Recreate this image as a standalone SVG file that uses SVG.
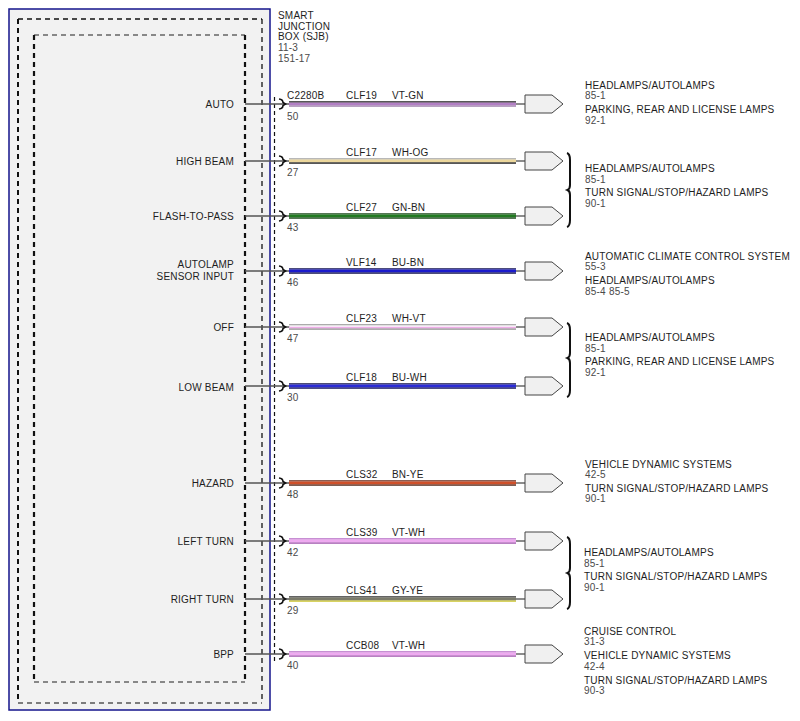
<svg xmlns="http://www.w3.org/2000/svg" width="800" height="721" viewBox="0 0 800 721">
<style>
text{font-family:"Liberation Sans",Arial,sans-serif;font-size:10px;fill:#1e1e1e;letter-spacing:0.2px}
.n{fill:#4a4a4a}
.lbl{text-anchor:end}
.pin{stroke:#555;stroke-width:1.5;fill:none}
.term{stroke:#111;stroke-width:1.6;fill:none}
.tail{stroke:#666;stroke-width:1.5}
.conn{fill:#f0f0f0;stroke:#444;stroke-width:1}
.brace{fill:none;stroke:#111;stroke-width:2}
</style>
<defs>
<path id="pent" class="conn" d="M525,-9 L552,-9 L563,0 L552,9 L525,9 Z"/>
<path id="term" class="term" d="M279,-5 Q283,-4.5 283,-1.5 L285.5,0 L283,1.5 Q283,4.5 279,5"/>
</defs>
<rect width="800" height="721" fill="#fff"/>

<g id="sjb">
<rect x="9" y="9" width="261" height="701" fill="#f2f2f2" stroke="#14148c" stroke-width="1.5"/>
<g fill="none" stroke-dasharray="5,4">
<line x1="18" y1="19" x2="262" y2="19" stroke="#111" stroke-width="1.5"/>
<line x1="18" y1="19" x2="18" y2="703" stroke="#111" stroke-width="2"/>
<line x1="262" y1="19" x2="262" y2="703" stroke="#111" stroke-width="1.3"/>
<line x1="18" y1="703" x2="262" y2="703" stroke="#555" stroke-width="1.3"/>
<line x1="34" y1="35" x2="245" y2="35" stroke="#666" stroke-width="1.3"/>
<line x1="34" y1="35" x2="34" y2="682" stroke="#111" stroke-width="2.2"/>
<line x1="245" y1="35" x2="245" y2="682" stroke="#111" stroke-width="2.2"/>
<line x1="34" y1="682" x2="245" y2="682" stroke="#666" stroke-width="1.3"/>
</g>
<line x1="274.5" y1="97" x2="274.5" y2="662" stroke="#111" stroke-width="1.2" stroke-dasharray="4,3"/>
<text x="278" y="19">SMART</text>
<text x="278" y="29.5">JUNCTION</text>
<text x="278" y="40">BOX (SJB)</text>
<text x="278" y="51" class="n">11-3</text>
<text x="278" y="62" class="n">151-17</text>
<g class="lbl">
<text x="234" y="108">AUTO</text>
<text x="234" y="165">HIGH BEAM</text>
<text x="234" y="220">FLASH-TO-PASS</text>
<text x="234" y="268">AUTOLAMP</text>
<text x="234" y="279.5">SENSOR INPUT</text>
<text x="234" y="331">OFF</text>
<text x="234" y="391">LOW BEAM</text>
<text x="234" y="487">HAZARD</text>
<text x="234" y="545">LEFT TURN</text>
<text x="234" y="603">RIGHT TURN</text>
<text x="234" y="658">BPP</text>
</g>
</g>

<g id="connectors">
<g id="w-auto" transform="translate(0,104)">
<line class="pin" x1="245" y1="0" x2="290" y2="0"/><use href="#term"/>
<rect x="289" y="-2.7" width="227" height="1.3" fill="#111"/><rect x="289" y="-1.4" width="227" height="2.9" fill="#b27fc4"/><rect x="289" y="1.5" width="227" height="1.2" fill="#9a7aa8"/>
<line class="tail" x1="516" y1="0" x2="525" y2="0"/>
<text x="287" y="-5">C2280B</text><text x="346" y="-5">CLF19</text><text x="392" y="-5">VT-GN</text><text x="287" y="16" class="n">50</text>
</g>
<g id="w-highbeam" transform="translate(0,161)">
<line class="pin" x1="245" y1="0" x2="290" y2="0"/><use href="#term"/>
<rect x="289" y="-2.7" width="227" height="1.2" fill="#9a9a9a"/><rect x="289" y="-1.5" width="227" height="2.9" fill="#ecd79c"/><rect x="289" y="1.4" width="227" height="1.3" fill="#111"/>
<line class="tail" x1="516" y1="0" x2="525" y2="0"/>
<text x="346" y="-5">CLF17</text><text x="392" y="-5">WH-OG</text><text x="287" y="15" class="n">27</text>
</g>
<g id="w-flash" transform="translate(0,216)">
<line class="pin" x1="245" y1="0" x2="290" y2="0"/><use href="#term"/>
<rect x="289" y="-2.7" width="227" height="1.2" fill="#0d3d0d"/><rect x="289" y="-1.5" width="227" height="3" fill="#217a21"/><rect x="289" y="1.5" width="227" height="1.2" fill="#0d3d0d"/>
<line class="tail" x1="516" y1="0" x2="525" y2="0" stroke="#111"/>
<text x="346" y="-5">CLF27</text><text x="392" y="-5">GN-BN</text><text x="287" y="15" class="n">43</text>
</g>
<g id="w-autolamp" transform="translate(0,271)">
<line class="pin" x1="245" y1="0" x2="290" y2="0"/><use href="#term"/>
<rect x="289" y="-2.7" width="227" height="1.2" fill="#000048"/><rect x="289" y="-1.5" width="227" height="3" fill="#1a1acc"/><rect x="289" y="1.5" width="227" height="1.2" fill="#000040"/>
<line class="tail" x1="516" y1="0" x2="525" y2="0"/>
<text x="346" y="-5">VLF14</text><text x="392" y="-5">BU-BN</text><text x="287" y="15" class="n">46</text>
</g>
<g id="w-off" transform="translate(0,327)">
<line class="pin" x1="245" y1="0" x2="290" y2="0" stroke="#111"/><use href="#term"/>
<rect x="289" y="-2.7" width="227" height="1.2" fill="#888"/><rect x="289" y="-1.5" width="227" height="1.2" fill="#fff"/><rect x="289" y="-0.3" width="227" height="1.8" fill="#eeaee8"/><rect x="289" y="1.5" width="227" height="1.2" fill="#8a8a8a"/>
<line class="tail" x1="516" y1="0" x2="525" y2="0" stroke="#111"/>
<text x="346" y="-5">CLF23</text><text x="392" y="-5">WH-VT</text><text x="287" y="15" class="n">47</text>
</g>
<g id="w-lowbeam" transform="translate(0,386)">
<line class="pin" x1="245" y1="0" x2="290" y2="0"/><use href="#term"/>
<rect x="289" y="-2.7" width="227" height="1.2" fill="#00003a"/><rect x="289" y="-1.5" width="227" height="3" fill="#2b2bd6"/><rect x="289" y="1.5" width="227" height="1.2" fill="#000050"/>
<line class="tail" x1="516" y1="0" x2="525" y2="0"/>
<text x="346" y="-5">CLF18</text><text x="392" y="-5">BU-WH</text><text x="287" y="15" class="n">30</text>
</g>
<g id="w-hazard" transform="translate(0,483)">
<line class="pin" x1="245" y1="0" x2="290" y2="0"/><use href="#term"/>
<rect x="289" y="-2.7" width="227" height="1.2" fill="#5a1a0a"/><rect x="289" y="-1.5" width="227" height="3" fill="#d0502a"/><rect x="289" y="1.5" width="227" height="1.2" fill="#4a1a0a"/>
<line class="tail" x1="516" y1="0" x2="525" y2="0"/>
<text x="346" y="-5">CLS32</text><text x="392" y="-5">BN-YE</text><text x="287" y="15" class="n">48</text>
</g>
<g id="w-leftturn" transform="translate(0,541)">
<line class="pin" x1="245" y1="0" x2="290" y2="0"/><use href="#term"/>
<rect x="289" y="-2.7" width="227" height="1.2" fill="#b060c0"/><rect x="289" y="-1.5" width="227" height="3" fill="#eeaaf0"/><rect x="289" y="1.5" width="227" height="1.2" fill="#9a4aa8"/>
<line class="tail" x1="516" y1="0" x2="525" y2="0"/>
<text x="346" y="-5">CLS39</text><text x="392" y="-5">VT-WH</text><text x="287" y="15" class="n">42</text>
</g>
<g id="w-rightturn" transform="translate(0,599)">
<line class="pin" x1="245" y1="0" x2="290" y2="0" stroke="#111"/><use href="#term"/>
<rect x="289" y="-2.7" width="227" height="1.2" fill="#222"/><rect x="289" y="-1.5" width="227" height="3" fill="#7a7a6a"/><rect x="289" y="1.5" width="227" height="1.2" fill="#c8c020"/>
<line class="tail" x1="516" y1="0" x2="525" y2="0"/>
<text x="346" y="-5">CLS41</text><text x="392" y="-5">GY-YE</text><text x="287" y="15" class="n">29</text>
</g>
<g id="w-bpp" transform="translate(0,654)">
<line class="pin" x1="245" y1="0" x2="290" y2="0"/><use href="#term"/>
<rect x="289" y="-2.7" width="227" height="1.2" fill="#b060c0"/><rect x="289" y="-1.5" width="227" height="3" fill="#eeaaf0"/><rect x="289" y="1.5" width="227" height="1.2" fill="#9a4aa8"/>
<line class="tail" x1="516" y1="0" x2="525" y2="0"/>
<text x="346" y="-5">CCB08</text><text x="392" y="-5">VT-WH</text><text x="287" y="15" class="n">40</text>
</g>
<g id="braces">
<path class="brace" d="M567,153 Q570,154 570,160 L570,185 Q570,189 567.5,190 Q570,191 570,195 L570,220 Q570,226 567,227"/>
<path class="brace" d="M567,323 Q570,324 570,330 L570,353 Q570,357 567.5,358 Q570,359 570,363 L570,390 Q570,396 567,397"/>
<path class="brace" d="M567,537 Q570,538 570,544 L570,568 Q570,572 567.5,573 Q570,574 570,578 L570,602 Q570,608 567,609"/>
</g>
</g>

<g id="dest-auto"><use href="#pent" y="104"/>
<text x="585" y="88.5">HEADLAMPS/AUTOLAMPS</text><text x="585" y="99" class="n">85-1</text>
<text x="585" y="112.5">PARKING, REAR AND LICENSE LAMPS</text><text x="585" y="123.5" class="n">92-1</text></g>
<g id="dest-highbeam"><use href="#pent" y="161"/></g>
<g id="dest-flash"><use href="#pent" y="216"/>
<text x="585" y="172">HEADLAMPS/AUTOLAMPS</text><text x="585" y="182.5" class="n">85-1</text>
<text x="585" y="196">TURN SIGNAL/STOP/HAZARD LAMPS</text><text x="585" y="207" class="n">90-1</text></g>
<g id="dest-autolamp"><use href="#pent" y="271"/>
<text x="585" y="259.5">AUTOMATIC CLIMATE CONTROL SYSTEM</text><text x="585" y="270" class="n">55-3</text>
<text x="585" y="283.5">HEADLAMPS/AUTOLAMPS</text><text x="585" y="295" class="n">85-4</text><text x="609" y="295" class="n">85-5</text></g>
<g id="dest-off"><use href="#pent" y="327"/></g>
<g id="dest-lowbeam"><use href="#pent" y="386"/>
<text x="585" y="341">HEADLAMPS/AUTOLAMPS</text><text x="585" y="351.5" class="n">85-1</text>
<text x="585" y="364.5">PARKING, REAR AND LICENSE LAMPS</text><text x="585" y="375.5" class="n">92-1</text></g>
<g id="dest-hazard"><use href="#pent" y="483"/>
<text x="585" y="467.5">VEHICLE DYNAMIC SYSTEMS</text><text x="585" y="478" class="n">42-5</text>
<text x="585" y="491.5">TURN SIGNAL/STOP/HAZARD LAMPS</text><text x="585" y="502" class="n">90-1</text></g>
<g id="dest-leftturn"><use href="#pent" y="541"/></g>
<g id="dest-rightturn"><use href="#pent" y="599"/>
<text x="584" y="555.5">HEADLAMPS/AUTOLAMPS</text><text x="584" y="566.5" class="n">85-1</text>
<text x="584" y="580">TURN SIGNAL/STOP/HAZARD LAMPS</text><text x="584" y="591" class="n">90-1</text></g>
<g id="dest-bpp"><use href="#pent" y="654"/>
<text x="584" y="634.5">CRUISE CONTROL</text><text x="584" y="645" class="n">31-3</text>
<text x="584" y="659">VEHICLE DYNAMIC SYSTEMS</text><text x="584" y="669.5" class="n">42-4</text>
<text x="584" y="683.5">TURN SIGNAL/STOP/HAZARD LAMPS</text><text x="584" y="694" class="n">90-3</text></g>
</svg>
